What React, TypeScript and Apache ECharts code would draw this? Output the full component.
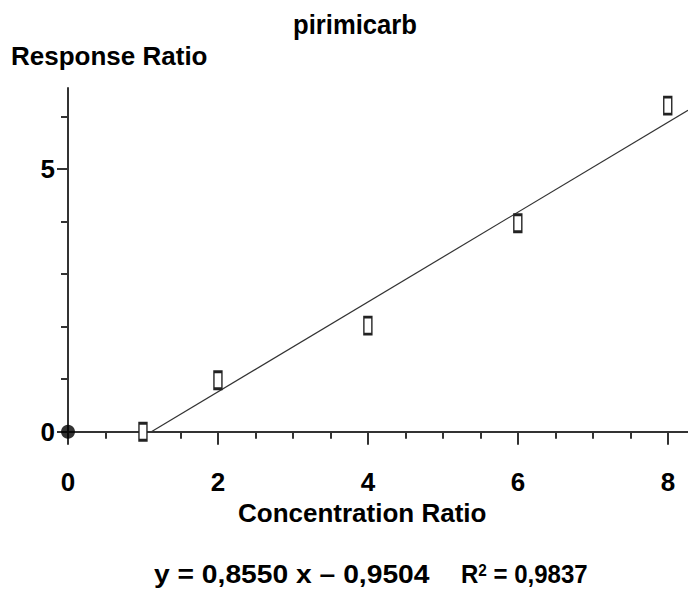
import React, { useEffect, useRef } from "react";
import * as echarts from "echarts";

const xValues = [1, 2, 4, 6, 8];
const yValues = [0.0, 0.98, 2.02, 3.97, 6.21];
const slope = 0.855;
const intercept = -0.9504;
const xTickLabels = ["0", "2", "4", "6", "8"];
const yTickLabels = ["0", "5"];
const xMax = 8.27;
const yMax = 6.545;

const FONT = "'Liberation Sans', Arial, sans-serif";
const AX = "#333";

export default function App() {
  const ref = useRef<HTMLDivElement>(null);
  useEffect(() => {
    const chart = echarts.init(ref.current!, null, { renderer: "svg" });
    const x0 = -intercept / slope;
    const lineData = [
      [x0, 0],
      [xMax, slope * xMax + intercept],
    ];
    chart.setOption({
      animation: false,
      backgroundColor: "#fff",
      grid: [
        { left: 68, right: 0, top: 88, bottom: 160.3 },
        { left: 68, right: 20, top: 116.7, bottom: 160.3 },
        { left: 68, right: 20, top: 169.2, bottom: 160.3 },
      ],
      xAxis: [
        {
          gridIndex: 0, type: "value", min: 0, max: xMax,
          axisLine: { show: true, lineStyle: { color: AX, width: 2 } },
          axisTick: { show: false }, axisLabel: { show: false }, splitLine: { show: false },
        },
        {
          gridIndex: 1, type: "value", min: 0, max: 8, interval: 0.5,
          axisLine: { show: false },
          axisTick: { show: true, length: 7, lineStyle: { color: AX, width: 2 } },
          axisLabel: { show: false }, splitLine: { show: false },
        },
        {
          gridIndex: 2, type: "value", min: 0, max: 8, interval: 2,
          axisLine: { show: false },
          axisTick: { show: true, length: 13, lineStyle: { color: AX, width: 2 } },
          axisLabel: {
            show: true, margin: 37, color: "#000", fontSize: 26, fontWeight: "bold", fontFamily: FONT,
            formatter: (v: number) => xTickLabels[Math.round(v / 2)] ?? "",
          },
          splitLine: { show: false },
        },
      ],
      yAxis: [
        {
          gridIndex: 0, type: "value", min: 0, max: yMax,
          axisLine: { show: true, lineStyle: { color: AX, width: 2 } },
          axisTick: { show: false }, axisLabel: { show: false }, splitLine: { show: false },
        },
        {
          gridIndex: 1, type: "value", min: 0, max: 6, interval: 1,
          axisLine: { show: false },
          axisTick: { show: true, length: 7, lineStyle: { color: AX, width: 2 } },
          axisLabel: { show: false }, splitLine: { show: false },
        },
        {
          gridIndex: 2, type: "value", min: 0, max: 5, interval: 5,
          axisLine: { show: false },
          axisTick: { show: true, length: 11, lineStyle: { color: AX, width: 2 } },
          axisLabel: {
            show: true, margin: 13, color: "#000", fontSize: 26, fontWeight: "bold", fontFamily: FONT,
            formatter: (v: number) => yTickLabels[Math.round(v / 5)] ?? "",
          },
          splitLine: { show: false },
        },
      ],
      graphic: [
        {
          type: "text", x: 293, y: 11, scaleX: 0.95,
          style: { text: "pirimicarb", fontSize: 27, fontWeight: "bold", fontFamily: FONT, fill: "#000" },
        },
        {
          type: "text", left: 11, top: 43,
          style: { text: "Response Ratio", fontSize: 26, fontWeight: "bold", fontFamily: FONT, fill: "#000" },
        },
        {
          type: "text", left: 238, top: 500,
          style: { text: "Concentration Ratio", fontSize: 26, fontWeight: "bold", fontFamily: FONT, fill: "#000" },
        },
        {
          type: "text", x: 154, y: 562, scaleX: 1.13,
          style: {
            text: "y = 0,8550 x \u2013 0,9504",
            fontSize: 25, fontWeight: "bold", fontFamily: FONT, fill: "#000",
          },
        },
        {
          type: "text", x: 461, y: 562, scaleX: 0.96,
          style: {
            text: "R{sup|2} = 0,9837",
            fontSize: 25, fontWeight: "bold", fontFamily: FONT, fill: "#000",
            rich: {
              sup: { fontSize: 16, fontWeight: "bold", fontFamily: FONT, fill: "#000", verticalAlign: "top", padding: [0, 0, 9, 0] },
            },
          },
        },
      ],
      series: [
        {
          type: "line", xAxisIndex: 0, yAxisIndex: 0, data: lineData,
          symbol: "none", lineStyle: { color: "#333", width: 1.2 }, z: 2,
        },
        {
          type: "scatter", xAxisIndex: 0, yAxisIndex: 0,
          data: xValues.map((x, i) => [x, yValues[i]]),
          symbol: "rect", symbolSize: [8, 17],
          itemStyle: { color: "#fff", borderColor: "#222", borderWidth: 2, opacity: 1 },
          z: 3,
        },
        {
          type: "scatter", xAxisIndex: 0, yAxisIndex: 0, data: [[0, 0]],
          symbol: "circle", symbolSize: 14, itemStyle: { color: "#000" }, z: 4,
        },
      ],
    });
    return () => chart.dispose();
  }, []);
  return (
    <div
      ref={ref}
      style={{ position: "absolute", left: 0, top: 0, width: 688, height: 592 }}
    />
  );
}
